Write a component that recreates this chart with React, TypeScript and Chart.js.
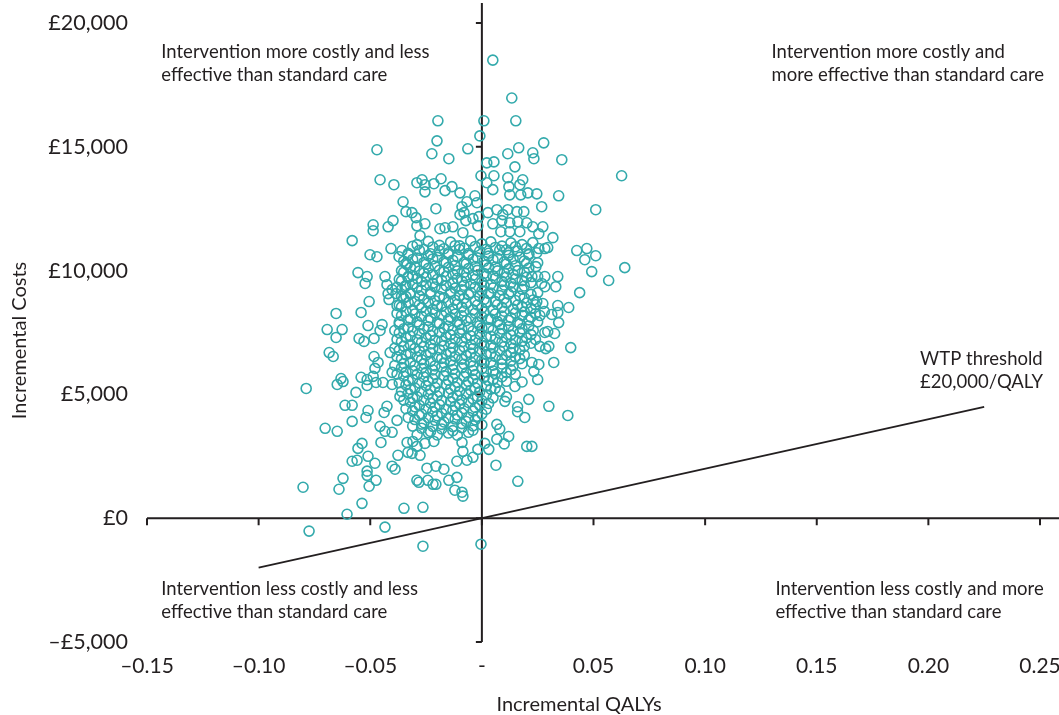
import React, { useEffect, useRef } from "react";
import { Chart, registerables } from "chart.js";

Chart.register(...registerables);

// ---- Axis ticks ----
const qalyTicks = [-0.15, -0.1, -0.05, 0, 0.05, 0.1, 0.15, 0.2, 0.25];
const costTicks = [-5000, 0, 5000, 10000, 15000, 20000];

// ---- Willingness-to-pay threshold line (£20,000 per QALY) ----
const wtpQalys = [-0.1, 0.225];
const wtpCosts = [-2000, 4500];

// ---- Bootstrap replicates: outlying points [incremental QALYs, incremental cost £] ----
const outerPoints: [number, number][] = [
  [0.0049, 18500], [0.0134, 16970], [-0.0197, 16050], [0.0009, 16050], [0.0152, 16050],
  [-0.0009, 15440], [-0.0201, 15240], [-0.0224, 14720], [-0.0148, 14520], [-0.0063, 14920],
  [0.0116, 14720], [0.0165, 14960], [0.0022, 14350], [0.0054, 14390], [0.0148, 14190],
  [-0.0268, 13670], [-0.0183, 13710], [-0.0004, 13830], [0.0054, 13830], [0.0116, 13750],
  [0.0183, 13670], [-0.047, 14880], [-0.0456, 13670], [-0.0394, 13470], [0.0277, 15160],
  [0.0228, 14760], [0.0233, 14520], [0.0358, 14480], [0.0626, 13830], [-0.0353, 12780],
  [-0.034, 12380], [-0.0398, 12020], [-0.042, 11770], [-0.0487, 11850], [-0.0487, 11610],
  [-0.0581, 11210], [-0.0407, 10890], [-0.0358, 10810], [-0.0371, 10560], [-0.0501, 10640],
  [-0.047, 10560], [-0.0335, 10240], [-0.0555, 9920], [-0.0514, 9760], [-0.0523, 9480],
  [-0.0434, 9760], [-0.0425, 9430], [-0.0402, 9230], [-0.0385, 9070], [-0.042, 9070],
  [-0.0344, 9350], [-0.034, 8950], [-0.0505, 8750], [-0.0416, 8830], [-0.038, 8590],
  [-0.0331, 9720], [-0.0653, 8270], [-0.0541, 8310], [-0.051, 7780], [-0.0693, 7620],
  [-0.0626, 7620], [-0.0653, 7300], [-0.055, 7260], [-0.0528, 7140], [-0.0483, 7260],
  [-0.0456, 7580], [-0.0447, 7820], [-0.0684, 6690], [-0.0666, 6530], [-0.0483, 6530],
  [-0.0465, 6290], [-0.0411, 6690], [-0.0479, 6050], [-0.0487, 5730], [-0.0443, 5480],
  [-0.0402, 5890], [-0.0631, 5640], [-0.0622, 5520], [-0.0648, 5400], [-0.0541, 5690],
  [-0.0514, 5600], [-0.0514, 5360], [-0.0474, 5480], [-0.0787, 5240], [-0.0564, 5080],
  [-0.0402, 5400], [-0.0367, 4920], [-0.0613, 4560], [-0.0581, 4560], [-0.051, 4350],
  [-0.0519, 4070], [-0.0425, 4520], [-0.0438, 4270], [-0.0581, 3910], [-0.0456, 3710],
  [-0.0702, 3630], [-0.0648, 3510], [-0.0434, 3510], [-0.0402, 3470], [-0.038, 3950],
  [-0.0537, 3020], [-0.0555, 2820], [-0.0452, 3060], [-0.0335, 3060], [-0.051, 2500],
  [-0.0581, 2300], [-0.0559, 2340], [-0.0479, 2220], [-0.0376, 2540], [-0.0331, 2660],
  [-0.0402, 2100], [-0.0389, 1980], [-0.0514, 1900], [-0.0514, 1730], [-0.0622, 1610],
  [-0.0474, 1530], [-0.0505, 1290], [-0.0801, 1250], [-0.064, 1170], [-0.0537, 600],
  [-0.0349, 400], [-0.0604, 160], [-0.0774, -520], [-0.0434, -360], [-0.0309, 3100],
  [-0.0291, 2900], [-0.0255, 3020], [-0.0215, 3100], [-0.0313, 2620], [-0.0277, 2540],
  [-0.0089, 3060], [-0.0085, 2700], [-0.0112, 2300], [-0.0067, 2340], [-0.004, 2460],
  [-0.0018, 2780], [0.0013, 3020], [0.0031, 2780], [0.0067, 3190], [0.0063, 2140],
  [-0.0246, 2020], [-0.0206, 2100], [-0.017, 1980], [-0.0291, 1530], [-0.0282, 1450],
  [-0.0242, 1530], [-0.0219, 1370], [-0.0206, 1370], [-0.0148, 1530], [-0.0112, 1650],
  [-0.0121, 1130], [-0.0089, 1050], [-0.0085, 890], [0.0161, 1490], [-0.0264, 440],
  [-0.0264, -1130], [-0.0004, -1050], [0.0201, 2900], [0.0224, 2900], [0.03, 4520],
  [0.0385, 4150], [0.0313, 8230], [0.034, 8310], [0.0344, 7900], [0.0282, 7500],
  [0.0295, 7540], [0.0326, 7460], [0.0259, 6940], [0.03, 6940], [0.0286, 6850],
  [0.0398, 6890], [0.0224, 6290], [0.0255, 6210], [0.0322, 6290], [0.0233, 5930],
  [0.025, 5600], [0.0246, 13100], [0.0344, 13020], [0.0268, 12580], [0.051, 12460],
  [0.0228, 11770], [0.0273, 11770], [0.0255, 11490], [0.0318, 11330], [0.0228, 11130],
  [0.0295, 10930], [0.0282, 10890], [0.0255, 10890], [0.0246, 10720], [0.0425, 10810],
  [0.047, 10890], [0.0461, 10440], [0.051, 10600], [0.025, 10320], [0.0242, 10160],
  [0.0492, 9960], [0.064, 10120], [0.0224, 9760], [0.025, 9760], [0.0282, 9760],
  [0.034, 9760], [0.0568, 9600], [0.0268, 9480], [0.0282, 9350], [0.0331, 9350],
  [0.025, 9110], [0.0438, 9110], [0.0246, 8750], [0.0273, 8670], [0.034, 8590],
  [0.0389, 8510], [-0.0291, 13550], [-0.0255, 13470], [-0.0215, 13510], [-0.0255, 13180],
  [-0.0165, 13230], [-0.0134, 13390], [-0.0098, 13140], [-0.0031, 13020], [0.0022, 13550],
  [0.0049, 13270], [0.0121, 13390], [0.017, 13470], [0.0174, 13060], [0.0125, 13060],
  [0.0206, 13140], [-0.0206, 12500], [-0.0089, 12580], [-0.0067, 12780], [-0.0022, 12740],
  [-0.008, 12340], [-0.0098, 12260], [-0.0072, 12020], [-0.004, 12100], [-0.0013, 12180],
  [0.0027, 12340], [0.0067, 12460], [0.0094, 12260], [0.0116, 12460], [0.0157, 12380],
  [0.0188, 12380], [-0.0313, 12340], [-0.0295, 12140], [-0.0255, 11890], [-0.0291, 11810],
  [-0.0277, 11410], [-0.0188, 11690], [-0.0165, 11730], [-0.013, 11770], [-0.0018, 11810],
  [0.0049, 11890], [0.0089, 12020], [0.0125, 11930], [0.0161, 11970], [0.0201, 11930],
  [-0.0085, 11530], [0.0085, 11570], [0.0125, 11570], [0.017, 11570],
  [0.0148, 5320], [0.0192, 4070], [0.0067, 3790], [0.0103, 4720], [0.016, 4500],
  [0.012, 3300], [0.011, 4900], [0.018, 5500], [0.016, 4300], [0.008, 3600],
  [0.01, 3000], [0.021, 4800],
];

// ---- Bootstrap replicates: dense central cloud (first layer) ----
const corePoints: [number, number][] = [
  [-0.029, 11050], [-0.024, 11180], [-0.019, 11020], [-0.014, 11150], [-0.01, 11000], [-0.005, 11200],
  [0.0, 11080], [0.004, 11160], [0.009, 10990], [0.013, 11120], [0.018, 11050],
  [-0.033, 10700], [-0.028, 10820], [-0.023, 10680], [-0.019, 10800], [-0.015, 10720], [-0.01, 10850],
  [-0.006, 10690], [-0.001, 10780], [0.003, 10700], [0.008, 10830], [0.012, 10720], [0.016, 10790], [0.021, 10680],
  [-0.035, 10380], [-0.031, 10450], [-0.026, 10330], [-0.022, 10470], [-0.017, 10360], [-0.013, 10420],
  [-0.008, 10330], [-0.004, 10460], [0.001, 10380], [0.005, 10440], [0.01, 10350], [0.014, 10470], [0.019, 10390],
  [-0.036, 10000], [-0.032, 10120], [-0.028, 9980], [-0.024, 10090], [-0.019, 10020], [-0.015, 10130],
  [-0.011, 9990], [-0.006, 10080], [-0.002, 10010], [0.003, 10110], [0.007, 9990], [0.012, 10070], [0.016, 10000], [0.021, 10100],
  [-0.037, 9650], [-0.033, 9760], [-0.029, 9680], [-0.025, 9740], [-0.02, 9640], [-0.016, 9770],
  [-0.011, 9690], [-0.007, 9720], [-0.003, 9650], [0.002, 9780], [0.006, 9690], [0.011, 9740], [0.015, 9660], [0.02, 9730],
  [-0.038, 9330], [-0.034, 9400], [-0.029, 9300], [-0.025, 9420], [-0.021, 9340], [-0.016, 9390],
  [-0.012, 9290], [-0.008, 9410], [-0.003, 9330], [0.001, 9380], [0.005, 9300], [0.01, 9420], [0.014, 9340], [0.019, 9380],
  [-0.036, 8960], [-0.032, 9060], [-0.028, 8980], [-0.023, 9040], [-0.019, 8950], [-0.014, 9070],
  [-0.01, 8990], [-0.006, 9030], [-0.001, 8960], [0.003, 9080], [0.008, 8990], [0.012, 9050], [0.017, 8970], [0.022, 9040],
  [-0.037, 8600], [-0.033, 8710], [-0.028, 8620], [-0.024, 8690], [-0.02, 8590], [-0.015, 8720],
  [-0.011, 8640], [-0.007, 8680], [-0.002, 8610], [0.002, 8730], [0.007, 8630], [0.011, 8700], [0.016, 8610], [0.02, 8690], [0.024, 8620],
  [-0.038, 8270], [-0.034, 8340], [-0.03, 8250], [-0.025, 8360], [-0.021, 8290], [-0.016, 8330],
  [-0.012, 8240], [-0.008, 8370], [-0.003, 8280], [0.001, 8320], [0.006, 8250], [0.01, 8360], [0.015, 8290], [0.019, 8330], [0.024, 8260], [0.028, 8350],
  [-0.037, 7920], [-0.033, 8010], [-0.029, 7930], [-0.024, 7990], [-0.02, 7900], [-0.015, 8020],
  [-0.011, 7940], [-0.007, 7980], [-0.002, 7910], [0.003, 8030], [0.007, 7940], [0.012, 7990], [0.016, 7900], [0.021, 8010], [0.025, 7930],
  [-0.039, 7580], [-0.035, 7650], [-0.031, 7560], [-0.026, 7640], [-0.022, 7550], [-0.017, 7670],
  [-0.013, 7590], [-0.009, 7630], [-0.004, 7560], [0.0, 7680], [0.005, 7590], [0.009, 7640], [0.014, 7570], [0.018, 7650], [0.023, 7580],
  [-0.038, 7220], [-0.034, 7300], [-0.029, 7210], [-0.025, 7290], [-0.021, 7200], [-0.016, 7320],
  [-0.012, 7240], [-0.007, 7270], [-0.003, 7200], [0.002, 7310], [0.006, 7230], [0.011, 7290], [0.015, 7210], [0.02, 7280], [0.024, 7220],
  [-0.039, 6870], [-0.035, 6950], [-0.03, 6860], [-0.026, 6940], [-0.022, 6850], [-0.017, 6970],
  [-0.013, 6880], [-0.008, 6920], [-0.004, 6850], [0.001, 6960], [0.005, 6880], [0.01, 6930], [0.014, 6860], [0.019, 6940],
  [-0.038, 6520], [-0.034, 6600], [-0.029, 6510], [-0.025, 6590], [-0.02, 6500], [-0.016, 6620],
  [-0.012, 6530], [-0.007, 6570], [-0.003, 6500], [0.002, 6610], [0.006, 6530], [0.011, 6580], [0.015, 6510], [0.019, 6590],
  [-0.039, 6170], [-0.035, 6250], [-0.03, 6160], [-0.026, 6240], [-0.021, 6150], [-0.017, 6270],
  [-0.013, 6180], [-0.008, 6220], [-0.004, 6150], [0.001, 6260], [0.005, 6180], [0.009, 6230], [0.014, 6160], [0.018, 6240],
  [-0.038, 5820], [-0.034, 5900], [-0.029, 5810], [-0.025, 5890], [-0.021, 5800], [-0.016, 5920],
  [-0.012, 5830], [-0.007, 5870], [-0.003, 5800], [0.002, 5910], [0.006, 5830], [0.011, 5880], [0.015, 5810],
  [-0.037, 5470], [-0.033, 5550], [-0.028, 5460], [-0.024, 5540], [-0.02, 5450], [-0.015, 5570],
  [-0.011, 5480], [-0.006, 5520], [-0.002, 5450], [0.003, 5560], [0.007, 5480], [0.011, 5530],
  [-0.036, 5120], [-0.032, 5200], [-0.027, 5110], [-0.023, 5190], [-0.019, 5100], [-0.014, 5220],
  [-0.01, 5130], [-0.005, 5170], [-0.001, 5100], [0.004, 5210], [0.008, 5130],
  [-0.035, 4770], [-0.031, 4850], [-0.026, 4760], [-0.022, 4840], [-0.018, 4750], [-0.013, 4870],
  [-0.009, 4780], [-0.004, 4820], [0.0, 4750], [0.005, 4860],
  [-0.034, 4420], [-0.03, 4500], [-0.025, 4410], [-0.021, 4490], [-0.016, 4400], [-0.012, 4520],
  [-0.008, 4430], [-0.003, 4470], [0.002, 4400],
  [-0.033, 4070], [-0.028, 4150], [-0.024, 4060], [-0.02, 4140], [-0.015, 4050], [-0.011, 4170],
  [-0.006, 4080], [-0.002, 4120],
  [-0.031, 3720], [-0.027, 3800], [-0.022, 3710], [-0.018, 3790], [-0.013, 3700], [-0.009, 3820],
  [-0.004, 3730], [0.0, 3770],
  [-0.029, 3370], [-0.024, 3450], [-0.02, 3360], [-0.015, 3440], [-0.011, 3350], [-0.006, 3470],
];

// ---- Bootstrap replicates: dense central cloud (interleaved second layer) ----
const corePointsB: [number, number][] = [
  [-0.031, 10985], [-0.026, 10855], [-0.022, 10955], [-0.017, 10885], [-0.012, 11005], [-0.008, 10905],
  [-0.003, 10975], [0.002, 10865], [0.006, 10935], [0.011, 10845], [0.015, 10965], [0.02, 10895],
  [-0.033, 10635], [-0.029, 10505], [-0.024, 10605], [-0.02, 10535], [-0.015, 10655], [-0.011, 10555],
  [-0.006, 10625], [-0.002, 10515], [0.003, 10585], [0.007, 10495], [0.012, 10615], [0.017, 10545], [0.021, 10645],
  [-0.034, 10285], [-0.03, 10155], [-0.025, 10255], [-0.021, 10185], [-0.016, 10305], [-0.012, 10205],
  [-0.007, 10275], [-0.003, 10165], [0.002, 10235], [0.006, 10145], [0.011, 10265], [0.015, 10195], [0.02, 10295],
  [-0.035, 9935], [-0.031, 9805], [-0.026, 9905], [-0.022, 9835], [-0.017, 9955], [-0.013, 9855],
  [-0.008, 9925], [-0.004, 9815], [0.001, 9885], [0.005, 9795], [0.01, 9915], [0.014, 9845], [0.019, 9945],
  [-0.036, 9585], [-0.031, 9455], [-0.027, 9555], [-0.022, 9485], [-0.018, 9605], [-0.013, 9505],
  [-0.009, 9575], [-0.005, 9465], [0.0, 9535], [0.004, 9445], [0.009, 9565], [0.013, 9495], [0.018, 9595], [0.022, 9515],
  [-0.036, 9235], [-0.032, 9105], [-0.027, 9205], [-0.023, 9135], [-0.018, 9255], [-0.014, 9155],
  [-0.009, 9225], [-0.005, 9115], [0.0, 9185], [0.004, 9095], [0.009, 9215], [0.013, 9145], [0.018, 9245],
  [-0.035, 8885], [-0.03, 8755], [-0.026, 8855], [-0.021, 8785], [-0.017, 8905], [-0.012, 8805],
  [-0.008, 8875], [-0.003, 8765], [0.001, 8835], [0.006, 8745], [0.01, 8865], [0.015, 8795], [0.019, 8895], [0.023, 8815],
  [-0.036, 8535], [-0.031, 8405], [-0.027, 8505], [-0.022, 8435], [-0.018, 8555], [-0.013, 8455],
  [-0.009, 8525], [-0.004, 8415], [0.0, 8485], [0.005, 8395], [0.009, 8515], [0.014, 8445], [0.018, 8545], [0.022, 8465],
  [-0.036, 8185], [-0.032, 8055], [-0.027, 8155], [-0.023, 8085], [-0.018, 8205], [-0.014, 8105],
  [-0.009, 8175], [-0.005, 8065], [0.0, 8135], [0.004, 8045], [0.009, 8165], [0.013, 8095], [0.018, 8195], [0.022, 8115], [0.026, 8185],
  [-0.037, 7835], [-0.033, 7705], [-0.028, 7805], [-0.024, 7735], [-0.019, 7855], [-0.015, 7755],
  [-0.01, 7825], [-0.006, 7715], [-0.001, 7785], [0.003, 7695], [0.008, 7815], [0.012, 7745], [0.017, 7845], [0.021, 7765],
  [-0.037, 7485], [-0.032, 7355], [-0.028, 7455], [-0.023, 7385], [-0.019, 7505], [-0.014, 7405],
  [-0.01, 7475], [-0.005, 7365], [-0.001, 7435], [0.004, 7345], [0.008, 7465], [0.013, 7395], [0.017, 7495], [0.022, 7415],
  [-0.036, 7135], [-0.032, 7005], [-0.027, 7105], [-0.023, 7035], [-0.018, 7155], [-0.014, 7055],
  [-0.009, 7125], [-0.005, 7015], [0.0, 7085], [0.004, 6995], [0.009, 7115], [0.013, 7045], [0.018, 7145], [0.022, 7065],
  [-0.037, 6785], [-0.032, 6655], [-0.028, 6755], [-0.023, 6685], [-0.019, 6805], [-0.014, 6705],
  [-0.01, 6775], [-0.005, 6665], [-0.001, 6735], [0.004, 6645], [0.008, 6765], [0.013, 6695], [0.017, 6795],
  [-0.036, 6435], [-0.032, 6305], [-0.027, 6405], [-0.023, 6335], [-0.018, 6455], [-0.014, 6355],
  [-0.009, 6425], [-0.005, 6315], [0.0, 6385], [0.004, 6295], [0.009, 6415], [0.013, 6345], [0.017, 6445],
  [-0.036, 6085], [-0.031, 5955], [-0.027, 6055], [-0.022, 5985], [-0.018, 6105], [-0.013, 6005],
  [-0.009, 6075], [-0.004, 5965], [0.0, 6035], [0.005, 5945], [0.009, 6065], [0.013, 5995],
  [-0.035, 5735], [-0.031, 5605], [-0.026, 5705], [-0.022, 5635], [-0.017, 5755], [-0.013, 5655],
  [-0.008, 5725], [-0.004, 5615], [0.001, 5685], [0.005, 5595], [0.009, 5715],
  [-0.034, 5385], [-0.03, 5255], [-0.025, 5355], [-0.021, 5285], [-0.016, 5405], [-0.012, 5305],
  [-0.007, 5375], [-0.003, 5265], [0.002, 5335], [0.006, 5245],
  [-0.033, 5035], [-0.029, 4905], [-0.024, 5005], [-0.02, 4935], [-0.015, 5055], [-0.011, 4955],
  [-0.007, 5025], [-0.002, 4915], [0.002, 4985],
  [-0.032, 4685], [-0.028, 4555], [-0.023, 4655], [-0.019, 4585], [-0.014, 4705], [-0.01, 4605],
  [-0.006, 4675], [-0.001, 4565], [0.003, 4635],
  [-0.031, 4335], [-0.027, 4205], [-0.022, 4305], [-0.018, 4235], [-0.013, 4355], [-0.009, 4255],
  [-0.004, 4325], [0.0, 4215],
  [-0.03, 3985], [-0.026, 3855], [-0.021, 3955], [-0.017, 3885], [-0.012, 4005], [-0.007, 3905],
  [-0.003, 3975],
  [-0.027, 3635], [-0.023, 3505], [-0.018, 3605], [-0.013, 3535], [-0.009, 3655], [-0.004, 3555],
];

// ---- Text labels ----
const quadrantLabels = [
  { lines: ["Intervention more costly and less", "effective than standard care"], qaly: -0.1436, cost: 18830 },
  { lines: ["Intervention more costly and", "more effective than standard care"], qaly: 0.1297, cost: 18830 },
  { lines: ["Intervention less costly and less", "effective than standard care"], qaly: -0.1436, cost: -2860 },
  { lines: ["Intervention less costly and more", "effective than standard care"], qaly: 0.1315, cost: -2860 },
  { lines: ["WTP threshold", "£20,000/QALY"], qaly: 0.1963, cost: 6410 },
];

const FONT = "Lato, 'Noto Sans', sans-serif";
const INK = "#231f20";
const TEAL = "#33aaac";

const fmtQaly = (v: number) => {
  if (Math.abs(v) < 1e-9) return "-";
  return (v < 0 ? "\u2013" : "") + Math.abs(v).toFixed(2);
};
const fmtCost = (v: number) => {
  if (Math.abs(v) < 1e-9) return "£0";
  const s = "£" + Math.abs(v).toLocaleString("en-GB");
  return v < 0 ? "\u2013" + s : s;
};

const planePlugin = {
  id: "cePlane",
  beforeDatasetsDraw(chart: any) {
    const { ctx, chartArea, scales } = chart;
    const xs = scales.x;
    const ys = scales.y;
    const x0 = xs.getPixelForValue(0);
    const y0 = ys.getPixelForValue(0);
    ctx.save();
    ctx.strokeStyle = INK;
    ctx.lineWidth = 2;
    ctx.beginPath();
    ctx.moveTo(chartArea.left, y0);
    ctx.lineTo(chartArea.right + 20, y0);
    ctx.moveTo(x0, chartArea.top - 20);
    ctx.lineTo(x0, chartArea.bottom);
    ctx.stroke();
    ctx.beginPath();
    qalyTicks.forEach((t) => {
      const px = xs.getPixelForValue(t);
      ctx.moveTo(px, y0);
      ctx.lineTo(px, y0 + 7);
    });
    costTicks.forEach((t) => {
      const py = ys.getPixelForValue(t);
      ctx.moveTo(x0 - 6, py);
      ctx.lineTo(x0, py);
    });
    ctx.stroke();
    ctx.restore();
  },
  afterDraw(chart: any) {
    const { ctx, chartArea, scales } = chart;
    const xs = scales.x;
    const ys = scales.y;
    ctx.save();
    ctx.fillStyle = INK;
    ctx.font = `18.5px ${FONT}`;
    ctx.textAlign = "left";
    ctx.textBaseline = "middle";
    quadrantLabels.forEach((q) => {
      const px = xs.getPixelForValue(q.qaly);
      const py = ys.getPixelForValue(q.cost);
      q.lines.forEach((l, i) => ctx.fillText(l, px, py + i * 23));
    });
    ctx.font = `20px ${FONT}`;
    ctx.textAlign = "center";
    ctx.fillText("Incremental QALYs", 579, 705);
    ctx.translate(20, (chartArea.top + chartArea.bottom) / 2 + 8);
    ctx.rotate(-Math.PI / 2);
    ctx.fillText("Incremental Costs", 0, 0);
    ctx.restore();
  },
};

export default function App() {
  const ref = useRef<HTMLCanvasElement | null>(null);
  useEffect(() => {
    if (!ref.current) return;
    const toPts = (arr: [number, number][]) => arr.map(([x, y]) => ({ x, y }));
    const pointStyle = {
      pointRadius: 5,
      pointBorderWidth: 1.6,
      pointBackgroundColor: "rgba(255,255,255,0)",
      pointBorderColor: TEAL,
      showLine: false,
    };
    const chart = new Chart(ref.current, {
      type: "scatter",
      data: {
        datasets: [
          {
            type: "line",
            label: "WTP threshold",
            data: wtpQalys.map((x, i) => ({ x, y: wtpCosts[i] })),
            borderColor: INK,
            borderWidth: 1.8,
            pointRadius: 0,
            fill: false,
          },
          { label: "Core", data: toPts(corePoints), ...pointStyle },
          { label: "CoreB", data: toPts(corePointsB), ...pointStyle },
          { label: "Outer", data: toPts(outerPoints), ...pointStyle },
        ] as any,
      },
      options: {
        animation: false,
        responsive: true,
        maintainAspectRatio: false,
        layout: { padding: { top: 23, right: 19, left: 0, bottom: 0 } },
        plugins: { legend: { display: false }, tooltip: { enabled: false } },
        scales: {
          x: {
            type: "linear",
            min: -0.15,
            max: 0.25,
            grid: { display: false },
            border: { display: false },
            afterBuildTicks: (s: any) => {
              s.ticks = qalyTicks.map((v) => ({ value: v }));
            },
            afterFit: (s: any) => {
              s.height = 73;
              s.paddingLeft = 0;
              s.paddingRight = 0;
            },
            ticks: {
              autoSkip: false,
              maxRotation: 0,
              padding: 4,
              color: INK,
              font: { family: FONT, size: 21 },
              callback: (v: any) => fmtQaly(Number(v)),
            },
          },
          y: {
            type: "linear",
            min: -5000,
            max: 20000,
            grid: { display: false },
            border: { display: false },
            afterBuildTicks: (s: any) => {
              s.ticks = costTicks.map((v) => ({ value: v }));
            },
            afterFit: (s: any) => {
              s.width = 147;
              s.paddingTop = 0;
              s.paddingBottom = 0;
            },
            ticks: {
              padding: 11,
              color: INK,
              font: { family: FONT, size: 21.5 },
              callback: (v: any) => fmtCost(Number(v)),
            },
          },
        },
      } as any,
      plugins: [planePlugin],
    });
    return () => chart.destroy();
  }, []);
  return (
    <div style={{ position: "fixed", left: 0, top: 0, width: 1059, height: 715, background: "#fff" }}>
      <canvas ref={ref} />
    </div>
  );
}
